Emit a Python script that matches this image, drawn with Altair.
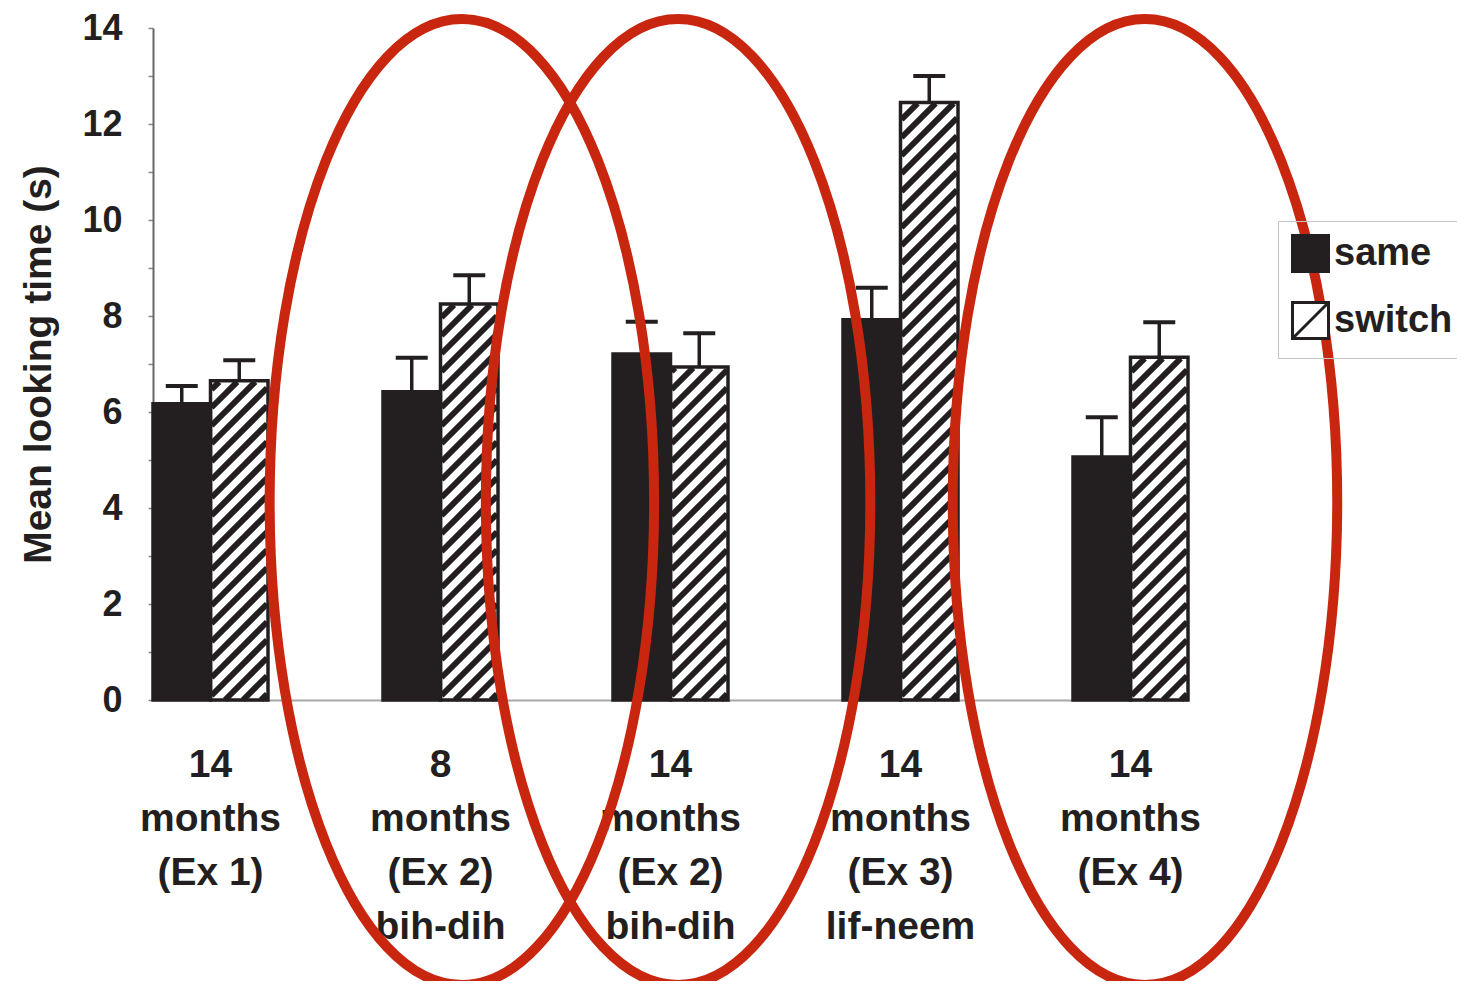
import altair as alt
import numpy as np
import pandas as pd

# ---------------- data ----------------
group_labels = [
    "14\nmonths\n(Ex 1)",
    "8\nmonths\n(Ex 2)\nbih-dih",
    "14\nmonths\n(Ex 2)\nbih-dih",
    "14\nmonths\n(Ex 3)\nlif-neem",
    "14\nmonths\n(Ex 4)",
]
series_names = ["same", "switch"]
same_mean = [6.17, 6.42, 7.21, 7.92, 5.06]
same_se = [0.37, 0.71, 0.67, 0.67, 0.83]
switch_mean = [6.65, 8.25, 6.94, 12.45, 7.14]
switch_se = [0.43, 0.60, 0.70, 0.55, 0.73]
y_tick_values = list(range(0, 15))

# annotation ellipses (red outlines around groups 2, 3 and 5), in group units
ellipse_cx = [1.093, 2.033, 4.063]
ellipse_cy = [4.125, 4.125, 4.125]

# ---------------- layout / style ----------------
INK = "#231f20"
RED = "#c8260f"
FONT = "Liberation Sans"
PLOT_W, PLOT_H = 1035, 672
X_DOMAIN = [-0.25, 4.25]
Y_DOMAIN = [0, 14]
BAR_W = 0.25
HATCH_STEP = 18.0   # vertical pixel period of the hatch
HATCH_WIDTH = 6.0

rows = []
for g in range(len(group_labels)):
    rows.append(dict(g=g, series="same", mean=same_mean[g], se=same_se[g]))
    rows.append(dict(g=g, series="switch", mean=switch_mean[g], se=switch_se[g]))
df = pd.DataFrame(rows)
df["x0"] = np.where(df["series"] == "same", df["g"] - BAR_W, df["g"])
df["x1"] = df["x0"] + BAR_W
df["xc"] = df["x0"] + BAR_W / 2
df["top"] = df["mean"] + df["se"]

# hatch lines for the "switch" bars (45 degrees on screen), clipped to each bar
sx = PLOT_W / (X_DOMAIN[1] - X_DOMAIN[0])
sy = PLOT_H / (Y_DOMAIN[1] - Y_DOMAIN[0])
hatch = []
inset = 1.0
for _, r in df[df["series"] == "switch"].iterrows():
    W = BAR_W * sx - 2 * inset
    H = r["mean"] * sy - inset
    c = -W + 6
    while c < H:
        u0 = max(0.0, -c)
        u1 = min(W, H - c)
        if u1 - u0 > 1:
            hatch.append(dict(
                x=r["x0"] + (u0 + inset) / sx, y=(u0 + c) / sy,
                x2=r["x0"] + (u1 + inset) / sx, y2=(u1 + c) / sy))
        c += HATCH_STEP
hatch_df = pd.DataFrame(hatch)

ell_df = pd.DataFrame(dict(cx=ellipse_cx, cy=ellipse_cy))
lab_df = pd.DataFrame(dict(g=list(range(len(group_labels))), label=group_labels))

x_scale = alt.Scale(domain=X_DOMAIN, nice=False, zero=False)
y_scale = alt.Scale(domain=Y_DOMAIN, nice=False, zero=True)
fill_scale = alt.Scale(domain=series_names, range=[INK, "#ffffff"])
stroke_scale = alt.Scale(domain=series_names, range=[INK, INK])
SWITCH_SYMBOL = "M-1,-1L1,-1L1,1L-1,1Z M-1,1L1,-1"
shape_scale = alt.Scale(domain=series_names, range=["square", SWITCH_SYMBOL])

legend_def = dict(
    title=None, orient="none", legendX=1125, legendY=193, direction="vertical",
    symbolSize=1296, symbolStrokeColor=INK, symbolStrokeWidth=3, symbolOpacity=1,
    labelFont=FONT, labelFontSize=38, labelFontWeight="bold", labelColor=INK,
    labelOffset=4, rowPadding=18, padding=13, strokeColor="#c4c4c4",
    labelLimit=400,
)

base = alt.Chart(df)

bars = base.mark_bar(strokeWidth=0).encode(
    x=alt.X("x0:Q", scale=x_scale, axis=alt.Axis(
        values=[0, 1, 2, 3, 4], labels=False, ticks=False,
        domainColor="#a8a8a8", domainWidth=2, grid=False, title=None)),
    x2="x1:Q",
    y=alt.Y("mean:Q", scale=y_scale, axis=alt.Axis(
        values=y_tick_values, labelExpr="datum.value % 2 == 0 ? datum.label : ''",
        title="Mean looking time (s)", titleFont=FONT, titleFontSize=39,
        titleFontWeight="bold", titleColor=INK, titleAngle=270, titleX=-103,
        titleY=PLOT_H / 2, titleAlign="center", titleBaseline="alphabetic",
        labelFont=FONT, labelFontSize=36, labelFontWeight="bold", labelColor=INK,
        labelPadding=26, tickSize=5, tickColor="#8a8a8a", tickWidth=1.5,
        domainColor="#666666", domainWidth=2, grid=False)),
    y2=alt.datum(0),
    fill=alt.Fill("series:N", scale=fill_scale),
)

hatch_layer = alt.Chart(hatch_df).mark_rule(
    color=INK, strokeWidth=HATCH_WIDTH, strokeCap="butt").encode(
    x="x:Q", y="y:Q", x2="x2:Q", y2="y2:Q")

outline = base.mark_bar(fillOpacity=0, stroke=INK, strokeWidth=3.5).encode(
    x="x0:Q", x2="x1:Q", y="mean:Q", y2=alt.datum(0))

stems = base.mark_rule(color=INK, strokeWidth=3.5).encode(
    x="xc:Q", y="mean:Q", y2="top:Q")

caps = base.mark_rule(color=INK, strokeWidth=4, xOffset=-16, x2Offset=16).encode(
    x="xc:Q", x2="xc:Q", y="top:Q")

labels = alt.Chart(lab_df).mark_text(
    lineBreak="\n", lineHeight=54, font=FONT, fontSize=39, fontWeight="bold",
    color=INK, align="center", baseline="alphabetic").encode(
    x="g:Q", y=alt.value(PLOT_H + 77), text="label:N")

# legend-only layer: no rows are drawn, the legend comes from the explicit scales
legend_layer = base.transform_filter(alt.datum.g < 0).mark_point(
    filled=False, strokeWidth=3, opacity=1).encode(
    x="xc:Q", y="mean:Q",
    fill=alt.Fill("series:N", scale=fill_scale, legend=alt.Legend(**legend_def)),
    stroke=alt.Stroke("series:N", scale=stroke_scale, legend=alt.Legend(**legend_def)),
    shape=alt.Shape("series:N", scale=shape_scale, legend=alt.Legend(**legend_def)),
)

# ellipse outline drawn with cubic Bezier segments (unit symbol space)
RX = 0.398
K = 0.5523
ELLIPSE = (
    f"M0,-1C{RX*K:.4f},-1,{RX},-{K},{RX},0"
    f"C{RX},{K},{RX*K:.4f},1,0,1"
    f"C-{RX*K:.4f},1,-{RX},{K},-{RX},0"
    f"C-{RX},-{K},-{RX*K:.4f},-1,0,-1Z"
)
ellipses = alt.Chart(ell_df).mark_point(
    shape=ELLIPSE, size=(2 * 483) ** 2, filled=False, color=RED, stroke=RED,
    strokeWidth=10, opacity=1).encode(x="cx:Q", y="cy:Q")

chart = alt.layer(bars, hatch_layer, outline, stems, caps, labels, legend_layer, ellipses).properties(
    width=PLOT_W, height=PLOT_H,
    padding={"left": 145, "top": 20, "right": 269, "bottom": 281},
    autosize=alt.AutoSizeParams(type="none"),
    background="white",
).configure_view(stroke=None)

chart.save("out.html", embed_options={"renderer": "svg", "actions": False})
